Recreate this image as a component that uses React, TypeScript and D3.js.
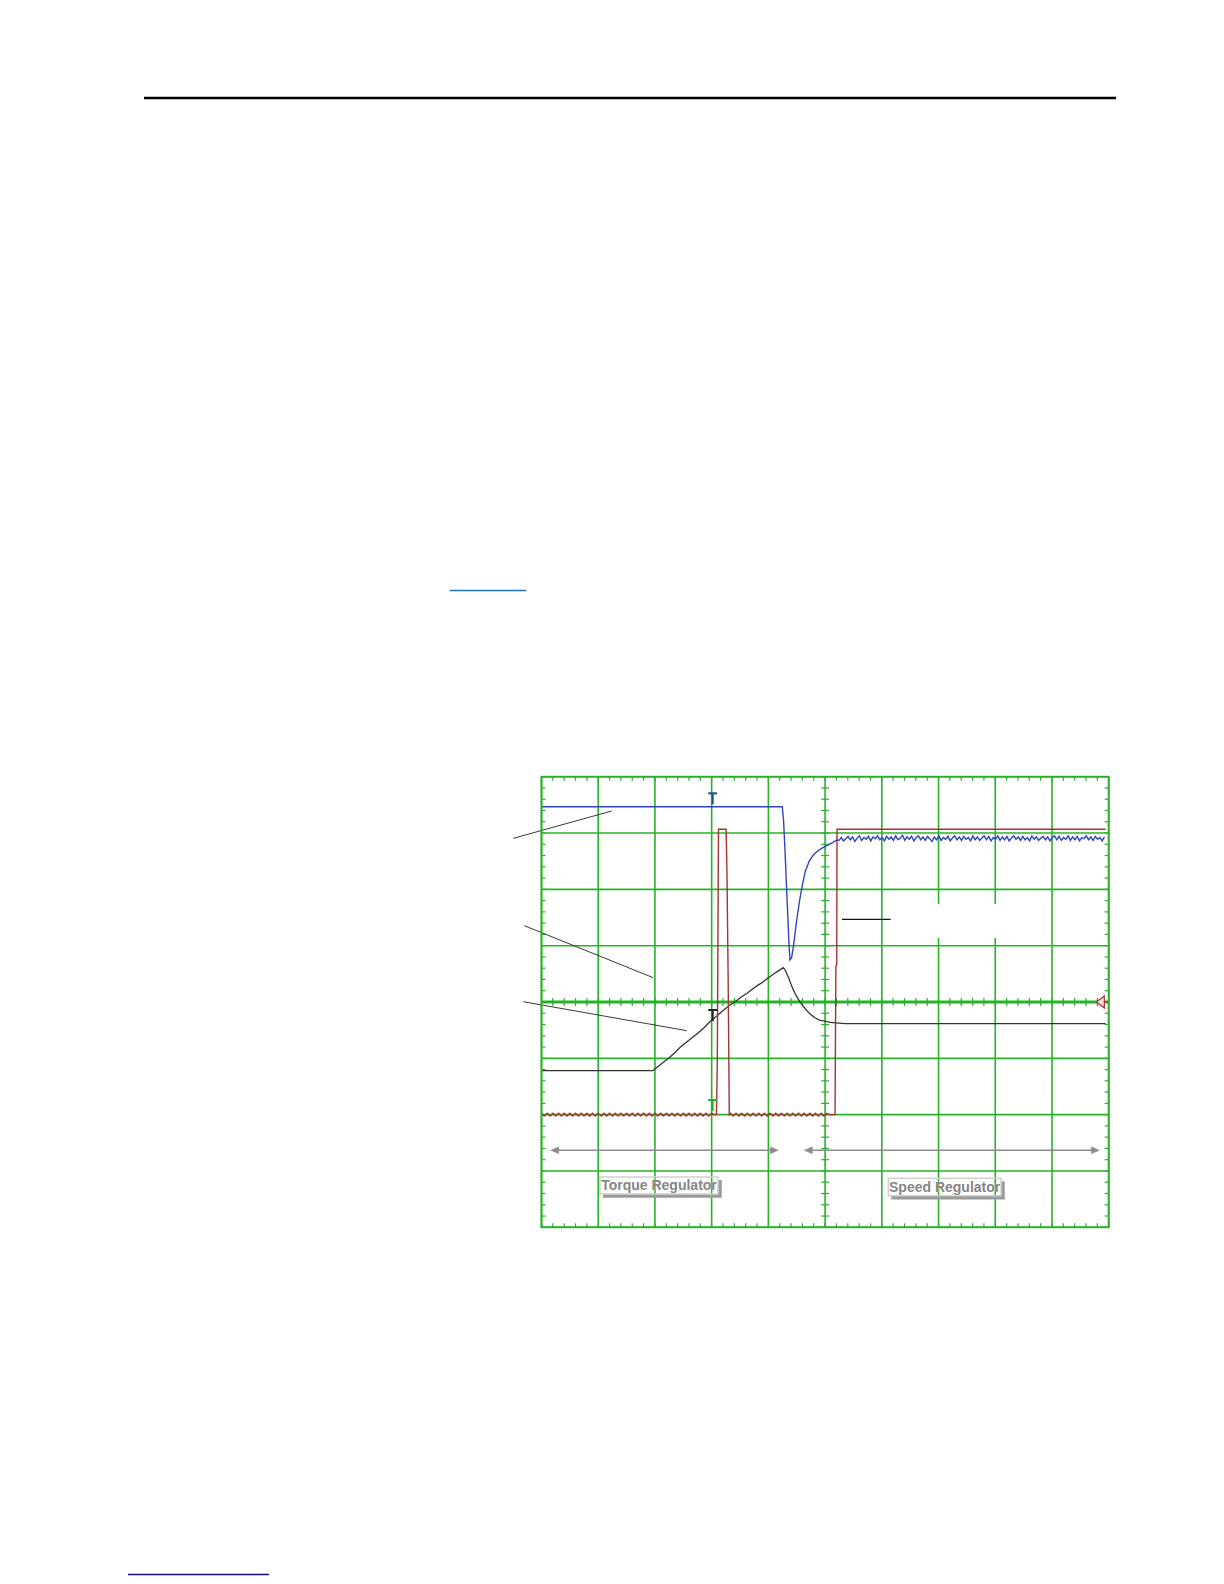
import React from "react";
import * as d3 from "d3";

// Oscilloscope screen: 10 horizontal divisions x 8 vertical divisions
const xDivs = [0, 10];
const yDivs = [-4, 4];

// Blue channel (divisions)
const blueMain: [number, number][] = [
  [0, 3.467], [4.245, 3.467], [4.267, 3.23], [4.293, 2.7], [4.32, 2.04], [4.346, 1.456],
  [4.364, 1.01], [4.381, 0.746], [4.408, 0.78], [4.44, 0.98], [4.5, 1.456], [4.55, 1.8],
  [4.6, 2.08], [4.65, 2.32], [4.72, 2.5], [4.8, 2.62], [4.88, 2.69], [4.96, 2.74], [5.04, 2.78],
  [5.122, 2.823], [5.205, 2.876],
];
const blueNoiseStart = 5.245;
const blueNoiseStep = 0.04;
const blueNoise = [
  2.87, 2.92, 2.86, 2.9, 2.94, 2.88, 2.93, 2.85, 2.91, 2.95, 2.87, 2.92, 2.89, 2.94, 2.86, 2.93, 2.9, 2.95, 2.88, 2.92,
  2.86, 2.94, 2.89, 2.93, 2.87, 2.95, 2.88, 2.91, 2.96, 2.87, 2.93, 2.89, 2.94, 2.86, 2.92, 2.95, 2.88, 2.93, 2.87, 2.94,
  2.9, 2.85, 2.93, 2.88, 2.95, 2.87, 2.92, 2.89, 2.94, 2.86, 2.91, 2.95, 2.88, 2.93, 2.87, 2.94, 2.89, 2.92, 2.86, 2.95,
  2.88, 2.93, 2.87, 2.91, 2.95, 2.88, 2.94, 2.86, 2.92, 2.89, 2.95, 2.87, 2.93, 2.88, 2.94, 2.86, 2.91, 2.95, 2.89, 2.93,
  2.87, 2.94, 2.88, 2.92, 2.86, 2.95, 2.89, 2.93, 2.87, 2.91, 2.94, 2.88, 2.93, 2.86, 2.92, 2.95, 2.88, 2.94, 2.87, 2.92,
  2.89, 2.95, 2.87, 2.93, 2.88, 2.94, 2.86, 2.92, 2.9, 2.95, 2.88, 2.93, 2.87, 2.94, 2.89, 2.92, 2.86, 2.93,
];

// Red channel
const redStep = 0.05;
const redLow1Start = 0;
const redLow1 = [
  -1.975, -2.025, -1.975, -2.025, -1.975, -2.025, -1.975, -2.025, -1.975, -2.025, -1.975, -2.025,
  -1.975, -2.025, -1.975, -2.025, -1.975, -2.025, -1.975, -2.025, -1.975, -2.025, -1.975, -2.025,
  -1.975, -2.025, -1.975, -2.025, -1.975, -2.025, -1.975, -2.025, -1.975, -2.025, -1.975, -2.025,
  -1.975, -2.025, -1.975, -2.025, -1.975, -2.025, -1.975, -2.025, -1.975, -2.025, -1.975, -2.025,
  -1.975, -2.025, -1.975, -2.025, -1.975, -2.025, -1.975, -2.025, -1.975, -2.025, -1.975, -2.025,
  -1.975, -2.0,
];
const redPulse: [number, number][] = [
  [3.085, -2.0], [3.1, -1.0], [3.12, 3.066], [3.255, 3.066], [3.27, 2.29], [3.29, 0.5], [3.311, -2.0],
];
const redLow2Start = 3.33;
const redLow2 = [
  -1.975, -2.025, -1.975, -2.025, -1.975, -2.025, -1.975, -2.025, -1.975, -2.025, -1.975, -2.025,
  -1.975, -2.025, -1.975, -2.025, -1.975, -2.025, -1.975, -2.025, -1.975, -2.025, -1.975, -2.025,
  -1.975, -2.025, -1.975, -2.025, -1.975, -2.025, -1.975, -2.025, -1.975, -2.025, -1.975, -2.0,
];
const redStepUp: [number, number][] = [
  [5.175, -2.0], [5.19, 0.64], [5.205, 0.66], [5.21, 3.066], [9.947, 3.066],
];

// Black channel
const blackTrace: [number, number][] = [
  [0, -1.22], [1.96, -1.22], [2.05, -1.15], [2.15, -1.07], [2.25, -0.99], [2.35, -0.9],
  [2.45, -0.8], [2.56, -0.71], [2.66, -0.63], [2.76, -0.55], [2.86, -0.46], [2.96, -0.36],
  [3.09, -0.25], [3.2, -0.15], [3.3, -0.07], [3.42, 0.01], [3.52, 0.09], [3.62, 0.15],
  [3.72, 0.23], [3.82, 0.3], [3.91, 0.36], [4.0, 0.43], [4.1, 0.5], [4.2, 0.57], [4.263, 0.61],
  [4.3, 0.56], [4.36, 0.42], [4.42, 0.26], [4.47, 0.15], [4.52, 0.06], [4.58, -0.03],
  [4.65, -0.12], [4.73, -0.21], [4.82, -0.28], [4.9, -0.32], [4.97, -0.335], [5.09, -0.36],
  [5.2, -0.37], [5.35, -0.385], [9.947, -0.385],
];

// Annotations (division units)
const leaders: [number, number, number, number][] = [
  [-0.497, 2.906, 1.238, 3.391],
  [-0.303, 1.355, 1.971, 0.431],
  [-0.321, 0.005, 2.56, -0.509],
];
const legendLine = [5.298, 6.157, 1.468];
const hiddenBox = [6.23, 8.79, 1.74, 1.136];
const arrows: [number, number, number][] = [
  [0.162, 4.175, -2.633],
  [4.633, 9.834, -2.633],
];
const regionLabels = [
  { text: "Torque Regulator", x0: 1.031, x1: 3.112, y0: -3.107, y1: -3.408 },
  { text: "Speed Regulator", x0: 6.114, x1: 8.101, y0: -3.13, y1: -3.44 },
];
const triggerT = 3.018;
const tMarkers = [
  { top: 3.705, color: "#1f4f8f" },
  { top: -0.142, color: "#222222" },
  { top: -1.74, color: "#27b327" },
];

const GREEN = "#27b327";

export default function App() {
  const x = d3.scaleLinear().domain(xDivs).range([541.5, 1108.7]);
  const y = d3.scaleLinear().domain(yDivs).range([1227.3, 776.7]);
  const line = d3
    .line<[number, number]>()
    .x((d) => x(d[0]))
    .y((d) => y(d[1]));

  const blueData: [number, number][] = [
    ...blueMain,
    ...blueNoise.map((v, i) => [blueNoiseStart + i * blueNoiseStep, v] as [number, number]),
  ];
  const redData: [number, number][] = [
    ...redLow1.map((v, i) => [redLow1Start + i * redStep, v] as [number, number]),
    ...redPulse,
    ...redLow2.map((v, i) => [redLow2Start + i * redStep, v] as [number, number]),
    ...redStepUp,
  ];

  const majorX = d3.range(0, 11, 1);
  const majorY = d3.range(-4, 5, 1);
  const minorX = d3.range(0, 10.001, 0.2);
  const minorY = d3.range(-4, 4.001, 0.2);

  const X0 = x(0), X1 = x(10), Y0 = y(4), Y1 = y(-4), XC = x(5), YC = y(0);

  return (
    <svg
      width={1224}
      height={1584}
      style={{ position: "absolute", left: 0, top: 0, background: "#fff" }}
      fontFamily="'Liberation Sans', Arial, sans-serif"
    >
      {/* page rules */}
      <line x1={144} x2={1116} y1={98} y2={98} stroke="#000" strokeWidth={2.5} />
      <line x1={450} x2={526} y1={590.5} y2={590.5} stroke="#1a6fd8" strokeWidth={1.3} />
      <line x1={128} x2={269} y1={1574.5} y2={1574.5} stroke="#101080" strokeWidth={1.3} />

      {/* grid */}
      <g stroke={GREEN}>
        {majorX.map((d) => (
          <line key={"vx" + d} x1={x(d)} x2={x(d)} y1={Y0} y2={Y1} strokeWidth={1.6} />
        ))}
        {majorY.map((d) => (
          <line key={"hy" + d} x1={X0} x2={X1} y1={y(d)} y2={y(d)} strokeWidth={d === 0 ? 3 : 1.6} />
        ))}
        {minorX.map((d, i) => (
          <g key={"mx" + i} strokeWidth={1.2}>
            <line x1={x(d)} x2={x(d)} y1={Y0} y2={Y0 + 4} />
            <line x1={x(d)} x2={x(d)} y1={Y1} y2={Y1 - 4} />
            <line x1={x(d)} x2={x(d)} y1={YC - 4} y2={YC + 4} />
          </g>
        ))}
        {minorY.map((d, i) => (
          <g key={"my" + i} strokeWidth={1.2}>
            <line x1={X0} x2={X0 + 4} y1={y(d)} y2={y(d)} />
            <line x1={X1} x2={X1 - 4} y1={y(d)} y2={y(d)} />
            <line x1={XC - 4} x2={XC + 4} y1={y(d)} y2={y(d)} />
          </g>
        ))}
      </g>

      {/* hidden legend area */}
      <rect
        x={x(hiddenBox[0])}
        y={y(hiddenBox[2])}
        width={x(hiddenBox[1]) - x(hiddenBox[0])}
        height={y(hiddenBox[3]) - y(hiddenBox[2])}
        fill="#fff"
      />
      <line
        x1={x(legendLine[0])}
        x2={x(legendLine[1])}
        y1={y(legendLine[2])}
        y2={y(legendLine[2])}
        stroke="#111"
        strokeWidth={1.2}
      />

      {/* traces */}
      <path d={line(blackTrace) || ""} fill="none" stroke="#333" strokeWidth={1.3} />
      <path d={line(redData) || ""} fill="none" stroke="#a83232" strokeWidth={1.4} />
      <path d={line(blueData) || ""} fill="none" stroke="#2f45c0" strokeWidth={1.4} />

      {/* T markers */}
      {tMarkers.map((m, i) => (
        <g key={"t" + i} stroke={m.color} strokeWidth={2}>
          <line x1={x(triggerT) - 4.5} x2={x(triggerT) + 4.5} y1={y(m.top)} y2={y(m.top)} />
          <line x1={x(triggerT)} x2={x(triggerT)} y1={y(m.top)} y2={y(m.top) + 11} />
        </g>
      ))}

      {/* ground marker */}
      <path
        d={`M${x(9.87) - 5},${y(0)} L${x(9.87) + 3},${y(0) - 6} L${x(9.87) + 3},${y(0) + 6} Z M${x(9.87) + 3},${y(0)} L${x(9.87) + 7},${y(0)}`}
        fill="#f6dede"
        stroke="#a83232"
        strokeWidth={1.2}
      />

      {/* leader lines */}
      {leaders.map((l, i) => (
        <line key={"l" + i} x1={x(l[0])} y1={y(l[1])} x2={x(l[2])} y2={y(l[3])} stroke="#222" strokeWidth={0.9} />
      ))}

      {/* regulator arrows */}
      {arrows.map((a, i) => {
        const ay = y(a[2]);
        const ax0 = x(a[0]);
        const ax1 = x(a[1]);
        return (
          <g key={"a" + i} stroke="#8c8c8c" fill="#8c8c8c">
            <line x1={ax0 + 4} x2={ax1 - 4} y1={ay} y2={ay} strokeWidth={1.4} />
            <path d={`M${ax0},${ay} L${ax0 + 8},${ay - 3.5} L${ax0 + 8},${ay + 3.5} Z`} strokeWidth={0.5} />
            <path d={`M${ax1},${ay} L${ax1 - 8},${ay - 3.5} L${ax1 - 8},${ay + 3.5} Z`} strokeWidth={0.5} />
          </g>
        );
      })}

      {/* region labels */}
      {regionLabels.map((r, i) => {
        const bx = x(r.x0);
        const by = y(r.y0);
        const bw = x(r.x1) - x(r.x0);
        const bh = y(r.y1) - y(r.y0);
        return (
          <g key={"r" + i}>
            <path
              d={`M${bx + 3},${by + bh + 2} H${bx + bw + 2} V${by + 3}`}
              fill="none"
              stroke="#9a9a9a"
              strokeWidth={3.5}
            />
            <rect x={bx} y={by} width={bw} height={bh} fill="none" stroke="#cfcfcf" strokeWidth={1.5} />
            <text
              x={bx + bw / 2}
              y={by + bh / 2 + 5}
              textAnchor="middle"
              fontSize={14}
              fontWeight="bold"
              fill="#868686"
              stroke="#ffffff"
              strokeWidth={0.4}
              paintOrder="stroke"
            >
              {r.text}
            </text>
          </g>
        );
      })}

      {/* frame */}
      <rect x={X0} y={Y0} width={X1 - X0} height={Y1 - Y0} fill="none" stroke={GREEN} strokeWidth={1.8} />
    </svg>
  );
}
